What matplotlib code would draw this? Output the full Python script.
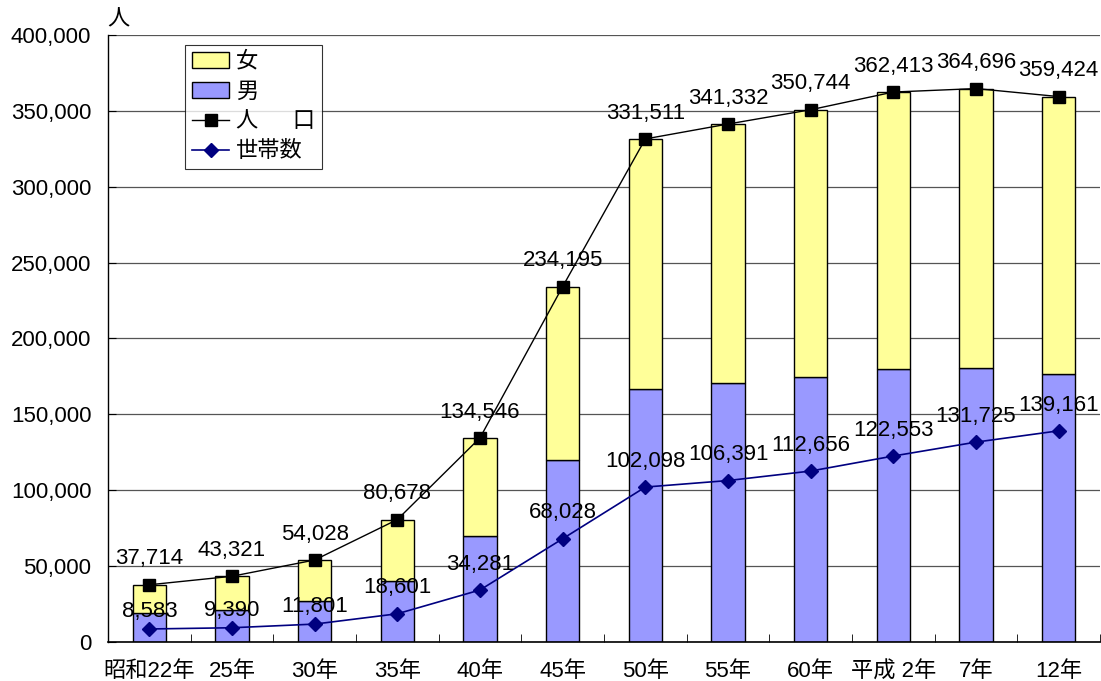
import matplotlib.pyplot as plt
import numpy as np

# --------------------------------
# DATA
# --------------------------------
years = ["昭和22年", "25年", "30年", "35年", "40年", "45年",
         "50年", "55年", "60年", "平成 2年", "7年", "12年"]
population = [37714, 43321, 54028, 80678, 134546, 234195,
              331511, 341332, 350744, 362413, 364696, 359424]
male = [19000, 21300, 27300, 40500, 69800, 119800,
        166900, 170400, 174800, 179600, 180300, 176500]
households = [8583, 9390, 11801, 18601, 34281, 68028,
              102098, 106391, 112656, 122553, 131725, 139161]
female = [p - m for p, m in zip(population, male)]

# --------------------------------
# STYLE
# --------------------------------
plt.rcParams["font.family"] = ["Liberation Sans", "Noto Sans CJK JP", "DejaVu Sans"]
FONT = 16

fig = plt.figure(figsize=(11.01, 6.81), dpi=100)
ax = fig.add_axes([108 / 1101, 1 - 642 / 681, 992 / 1101, (642 - 35) / 681])

x = np.arange(len(years))
bw = 0.4

ax.bar(x, male, width=bw, color="#9999FF", edgecolor="black", linewidth=1,
       label="男", zorder=2)
ax.bar(x, female, width=bw, bottom=male, color="#FFFF99", edgecolor="black",
       linewidth=1, label="女", zorder=2)

ax.plot(x, population, color="black", lw=1, marker="s", markersize=8,
        label="人　  口", zorder=3)
ax.plot(x, households, color="#000080", lw=1.2, marker="D", markersize=7,
        label="世帯数", zorder=3)

for xi, v in zip(x, population):
    ax.annotate(f"{v:,}", (xi, v), xytext=(0, 11), textcoords="offset points",
                ha="center", va="bottom", fontsize=FONT, zorder=4)
for i, (xi, v) in enumerate(zip(x, households)):
    off = 5 if i < 3 else 11
    ax.annotate(f"{v:,}", (xi, v), xytext=(0, off), textcoords="offset points",
                ha="center", va="bottom", fontsize=FONT, zorder=4)

ax.set_xlim(-0.5, len(years) - 0.5)
ax.set_ylim(0, 400000)
ax.set_yticks(np.arange(0, 400001, 50000))
ax.set_yticklabels([f"{v:,}" for v in range(0, 400001, 50000)], fontsize=FONT)
ax.set_xticks(x)
ax.set_xticklabels(years, fontsize=FONT)
ax.set_xticks(np.arange(-0.5, len(years), 1), minor=True)
ax.tick_params(axis="x", which="major", length=0, pad=14)
ax.tick_params(axis="x", which="minor", direction="in", length=6)
ax.tick_params(axis="y", direction="in", length=6, pad=12)

ax.grid(axis="y", color="#555555", lw=0.9, zorder=0)
ax.set_axisbelow(True)
for s in ["top", "right"]:
    ax.spines[s].set_visible(False)
ax.spines["left"].set_linewidth(1)
ax.spines["bottom"].set_linewidth(1.2)

fig.text(118 / 1101, 1 - 20 / 681, "人", fontsize=FONT, ha="center", va="center")

h, l = ax.get_legend_handles_labels()
order = [3, 2, 0, 1]
leg = ax.legend([h[i] for i in order], [l[i] for i in order],
                loc="upper left", bbox_to_anchor=(185 / 1101, 1 - 45 / 681),
                bbox_transform=fig.transFigure, fontsize=FONT, frameon=True,
                fancybox=False, edgecolor="black", handlelength=1.7,
                borderpad=0.3, labelspacing=0.4, handletextpad=0.3,
                borderaxespad=0)
leg.get_frame().set_linewidth(0.8)

fig.savefig("out.png", dpi=100)
